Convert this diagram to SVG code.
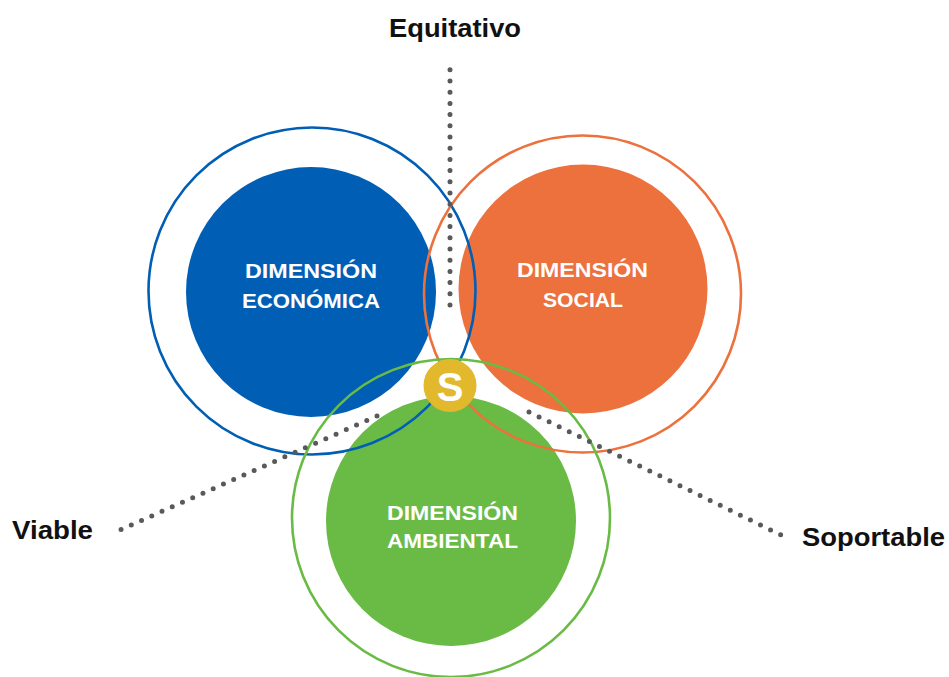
<svg xmlns="http://www.w3.org/2000/svg" width="949" height="677" viewBox="0 0 949 677">
  <style>
    .ring { fill: none; stroke-width: 2.6; }
    .dim { font-family: "Liberation Sans", Arial, sans-serif; font-weight: bold; font-size: 21px; fill: #ffffff; text-anchor: middle; }
    .lbl { font-family: "Liberation Sans", Arial, sans-serif; font-weight: bold; font-size: 26.5px; fill: #111111; }
    .dots { fill: none; stroke: #595959; stroke-width: 5; stroke-linecap: round; stroke-dasharray: 0 11.2; }
  </style>
  <rect width="949" height="677" fill="#ffffff"/>

  <!-- filled discs -->
  <g id="economica">
    <circle cx="311" cy="292" r="125" fill="#015EB5"/>
  </g>
  <g id="social">
    <circle cx="583" cy="289" r="124.5" fill="#EC713D"/>
  </g>
  <g id="ambiental">
    <circle cx="451" cy="521" r="125" fill="#6ABB46"/>
  </g>

  <!-- outer rings, drawn over all discs -->
  <g id="rings">
    <circle class="ring" cx="312" cy="291" r="163.5" stroke="#015EB5"/>
    <circle class="ring" cx="582.5" cy="294" r="158.5" stroke="#EC713D"/>
    <circle class="ring" cx="451" cy="518" r="159" stroke="#6ABB46"/>
  </g>

  <!-- dotted connectors -->
  <g id="connectors">
    <line class="dots" x1="450" y1="305" x2="450" y2="66"/>
    <line class="dots" x1="377" y1="416" x2="120" y2="530"/>
    <line class="dots" x1="529" y1="412" x2="781" y2="535"/>
  </g>

  <!-- disc labels -->
  <g id="economica-label">
    <text class="dim" x="311" y="278" textLength="132" lengthAdjust="spacingAndGlyphs">DIMENSIÓN</text>
    <text class="dim" x="311" y="308" textLength="138" lengthAdjust="spacingAndGlyphs">ECONÓMICA</text>
  </g>
  <g id="social-label">
    <text class="dim" x="582.5" y="277" textLength="131" lengthAdjust="spacingAndGlyphs">DIMENSIÓN</text>
    <text class="dim" x="583" y="307" textLength="80" lengthAdjust="spacingAndGlyphs">SOCIAL</text>
  </g>
  <g id="ambiental-label">
    <text class="dim" x="452.5" y="520" textLength="131" lengthAdjust="spacingAndGlyphs">DIMENSIÓN</text>
    <text class="dim" x="452.5" y="548" textLength="131" lengthAdjust="spacingAndGlyphs">AMBIENTAL</text>
  </g>

  <!-- centre badge -->
  <g id="sostenible">
    <circle cx="450" cy="385.5" r="26.5" fill="#E2B92C"/>
    <text x="450" y="401" font-family="'Liberation Sans', Arial, sans-serif" font-weight="bold" font-size="40" fill="#ffffff" text-anchor="middle">S</text>
  </g>

  <!-- outer labels -->
  <g id="equitativo">
    <text class="lbl" x="389" y="37" textLength="132" lengthAdjust="spacingAndGlyphs">Equitativo</text>
  </g>
  <g id="viable">
    <text class="lbl" x="12" y="539" textLength="81" lengthAdjust="spacingAndGlyphs">Viable</text>
  </g>
  <g id="soportable">
    <text class="lbl" x="802" y="546" textLength="143" lengthAdjust="spacingAndGlyphs">Soportable</text>
  </g>
</svg>
